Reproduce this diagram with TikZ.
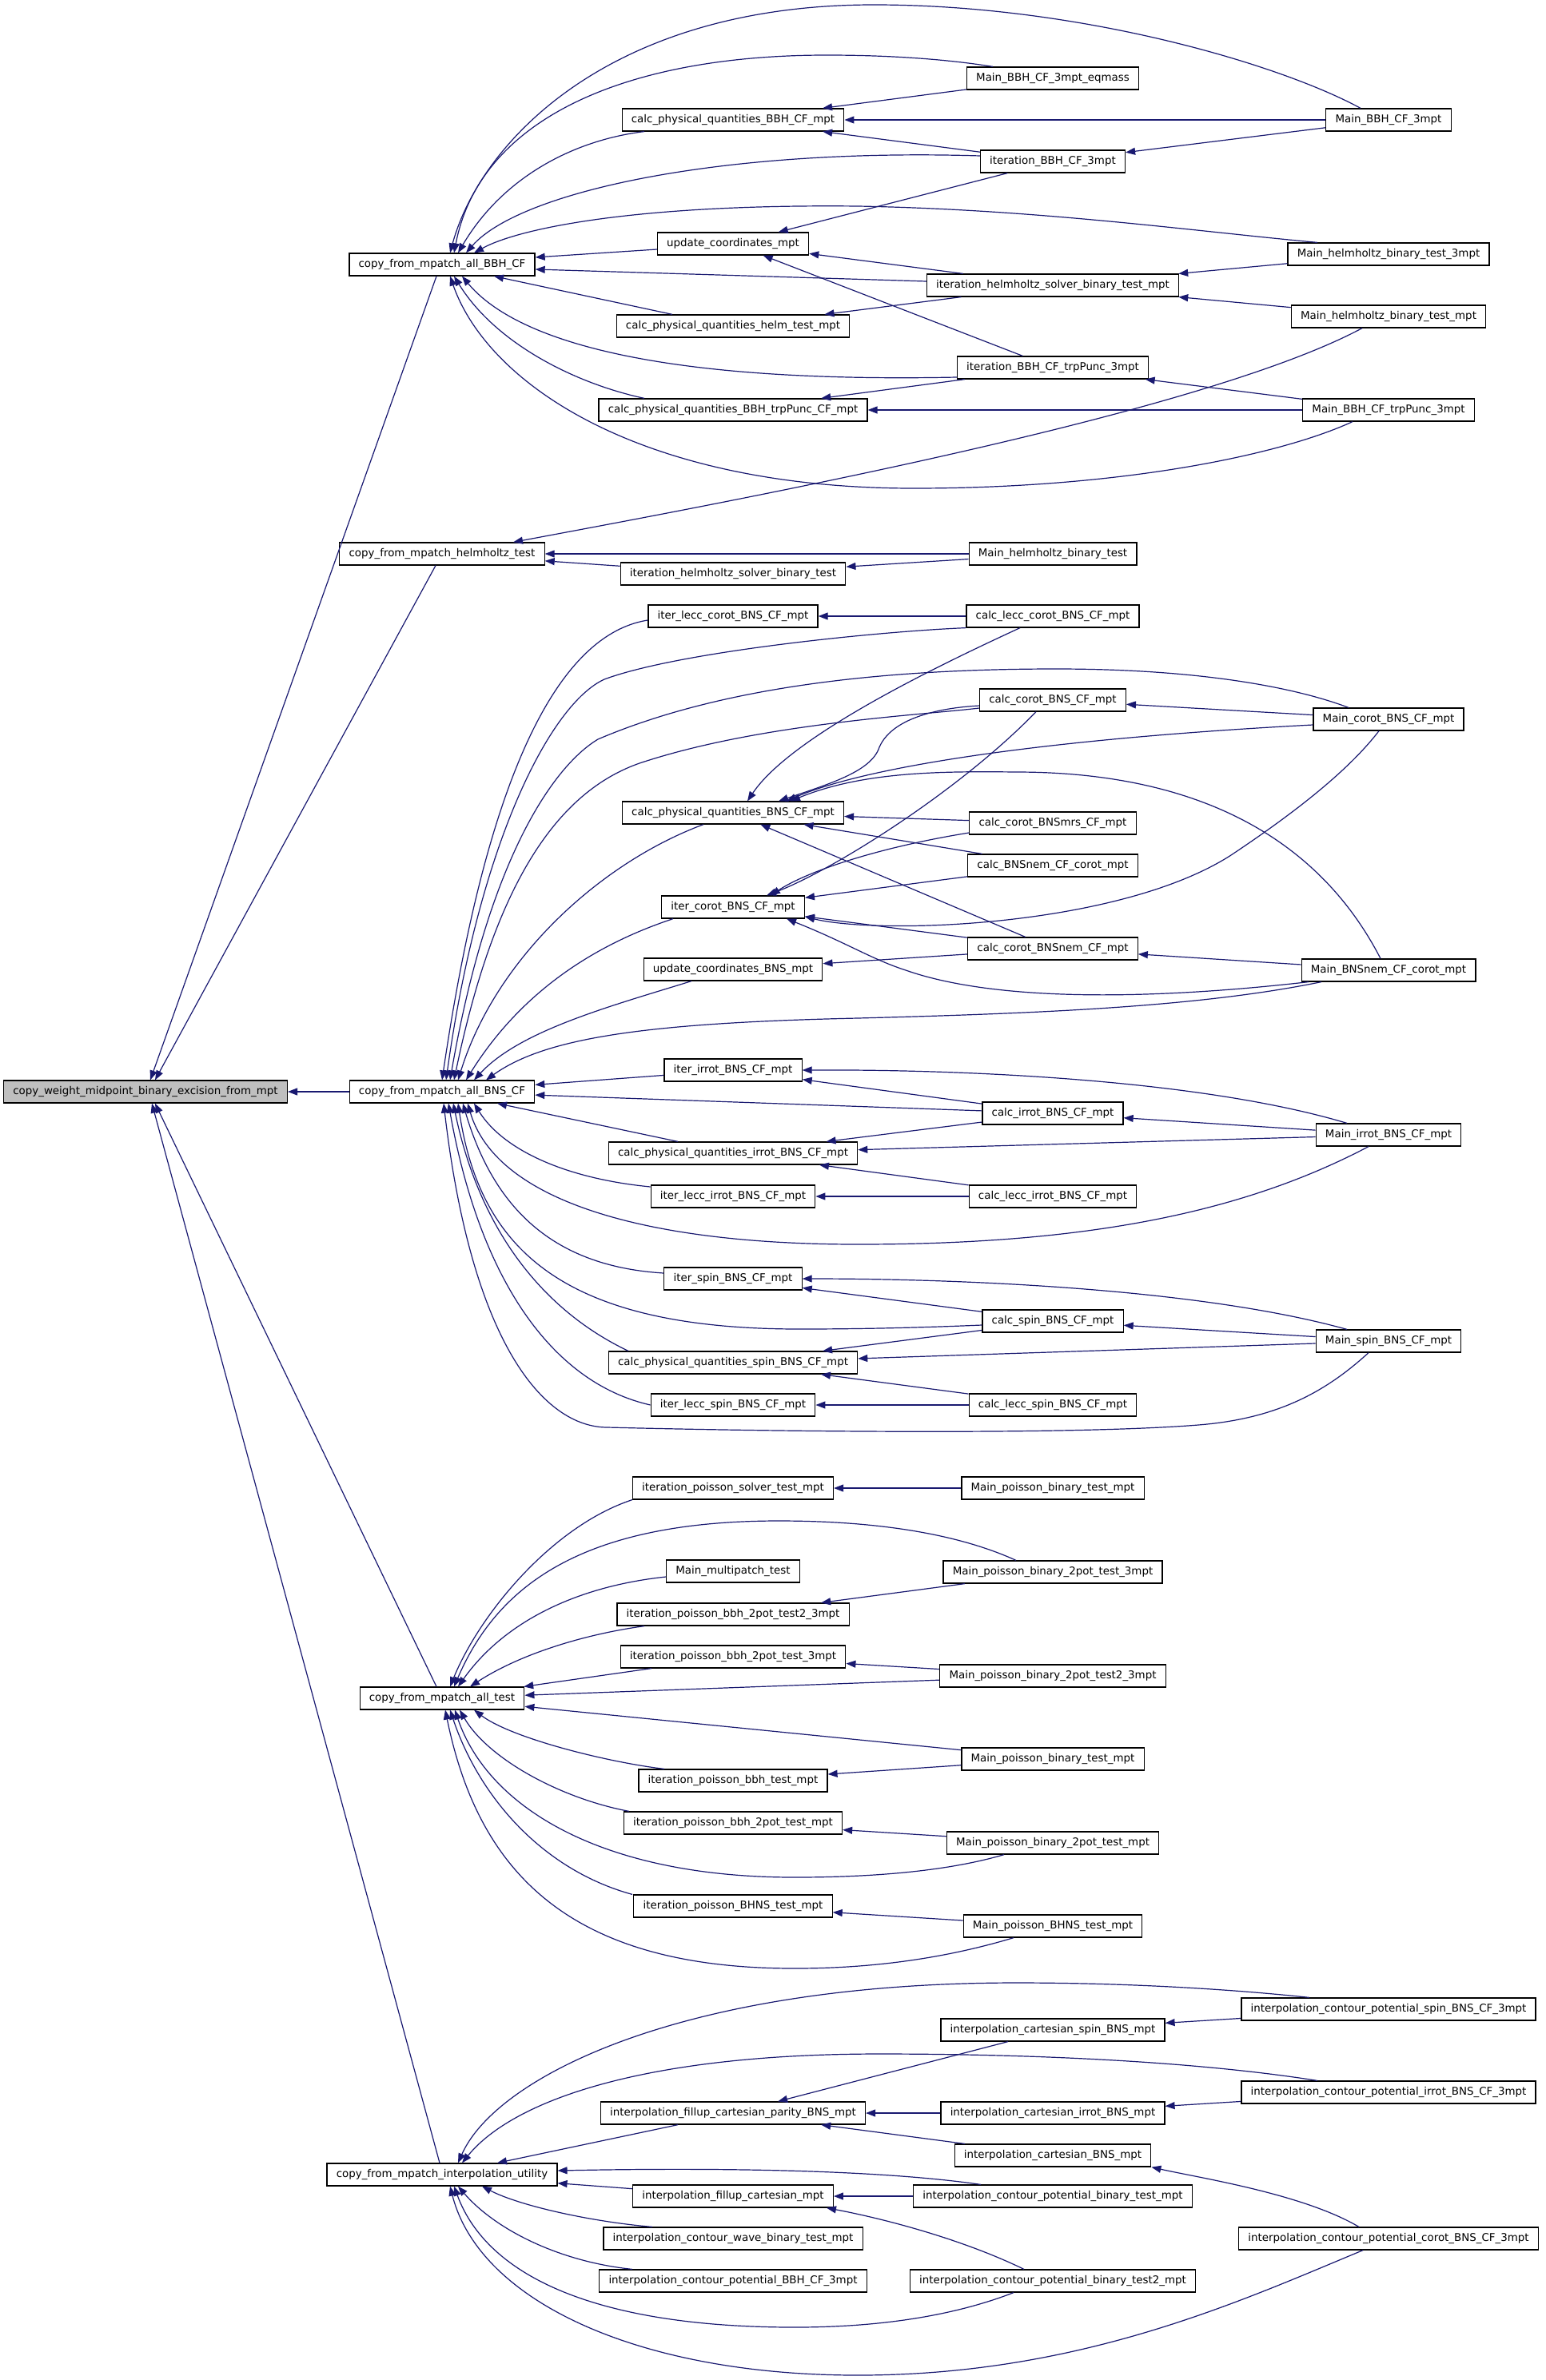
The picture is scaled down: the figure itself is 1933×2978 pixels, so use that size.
\documentclass[tikz,border=0pt]{standalone}
\usepackage{fontspec}
\setmainfont{DejaVu Sans}
\usetikzlibrary{arrows.meta}
\definecolor{eblue}{RGB}{25,25,112}
\begin{document}
\begin{tikzpicture}[x=1pt,y=-1pt]
\tikzset{
  box/.style={draw=black, fill=white, line width=1.2pt, inner xsep=11.7pt, inner ysep=0pt,
    minimum height=28pt, font=\fontsize{13.4}{16}\selectfont},
  e/.style={draw=eblue, line width=1.2pt, arrows={Triangle[length=12pt,width=9pt,fill=eblue]-}},
}
\useasboundingbox (0,0) rectangle (1933,2978);
% ---------------- nodes ----------------
\node[box,fill=gray!50] (main) at (182,1366) {copy\_weight\_midpoint\_binary\_excision\_from\_mpt};
% level 1
\node[box] (bbh) at (553,331) {copy\_from\_mpatch\_all\_BBH\_CF};
\node[box] (hlm) at (553,693) {copy\_from\_mpatch\_helmholtz\_test};
\node[box] (bns) at (553,1366) {copy\_from\_mpatch\_all\_BNS\_CF};
\node[box] (tst) at (553,2125) {copy\_from\_mpatch\_all\_test};
\node[box] (ipu) at (553,2721) {copy\_from\_mpatch\_interpolation\_utility};
% level 2
\node[box] (cpq) at (917,150) {calc\_physical\_quantities\_BBH\_CF\_mpt};
\node[box] (uc) at (917,305) {update\_coordinates\_mpt};
\node[box] (cph) at (917,408) {calc\_physical\_quantities\_helm\_test\_mpt};
\node[box] (cpt) at (917,513) {calc\_physical\_quantities\_BBH\_trpPunc\_CF\_mpt};
\node[box] (ihb) at (917,718) {iteration\_helmholtz\_solver\_binary\_test};
\node[box] (ilc) at (917,771) {iter\_lecc\_corot\_BNS\_CF\_mpt};
\node[box] (cpb) at (917,1017) {calc\_physical\_quantities\_BNS\_CF\_mpt};
\node[box] (icb) at (917,1135) {iter\_corot\_BNS\_CF\_mpt};
\node[box] (ucb) at (917,1213) {update\_coordinates\_BNS\_mpt};
\node[box] (iib) at (917,1339) {iter\_irrot\_BNS\_CF\_mpt};
\node[box] (cpi) at (917,1443) {calc\_physical\_quantities\_irrot\_BNS\_CF\_mpt};
\node[box] (ili) at (917,1497) {iter\_lecc\_irrot\_BNS\_CF\_mpt};
\node[box] (isb) at (917,1600) {iter\_spin\_BNS\_CF\_mpt};
\node[box] (cps) at (917,1705) {calc\_physical\_quantities\_spin\_BNS\_CF\_mpt};
\node[box] (ils) at (917,1758) {iter\_lecc\_spin\_BNS\_CF\_mpt};
\node[box] (ipst) at (917,1862) {iteration\_poisson\_solver\_test\_mpt};
\node[box] (mmt) at (917,1966) {Main\_multipatch\_test};
\node[box] (ipbtt) at (917,2020) {iteration\_poisson\_bbh\_2pot\_test2\_3mpt};
\node[box] (ipbth) at (917,2073) {iteration\_poisson\_bbh\_2pot\_test\_3mpt};
\node[box] (ipbt) at (917,2228) {iteration\_poisson\_bbh\_test\_mpt};
\node[box] (ipbtw) at (917,2281) {iteration\_poisson\_bbh\_2pot\_test\_mpt};
\node[box] (ipbh) at (917,2385) {iteration\_poisson\_BHNS\_test\_mpt};
\node[box] (ifcp) at (917,2644) {interpolation\_fillup\_cartesian\_parity\_BNS\_mpt};
\node[box] (ifc) at (917,2748) {interpolation\_fillup\_cartesian\_mpt};
\node[box] (icwb) at (917,2801) {interpolation\_contour\_wave\_binary\_test\_mpt};
\node[box] (icpbbh) at (917,2854) {interpolation\_contour\_potential\_BBH\_CF\_3mpt};
% level 3
\node[box] (eq) at (1317,98) {Main\_BBH\_CF\_3mpt\_eqmass};
\node[box] (it3) at (1317,202) {iteration\_BBH\_CF\_3mpt};
\node[box] (ihm) at (1317,357) {iteration\_helmholtz\_solver\_binary\_test\_mpt};
\node[box] (itp) at (1317,460) {iteration\_BBH\_CF\_trpPunc\_3mpt};
\node[box] (mhb) at (1317,693) {Main\_helmholtz\_binary\_test};
\node[box] (clc) at (1317,771) {calc\_lecc\_corot\_BNS\_CF\_mpt};
\node[box] (ccb) at (1317,876) {calc\_corot\_BNS\_CF\_mpt};
\node[box] (cmrs) at (1317,1030) {calc\_corot\_BNSmrs\_CF\_mpt};
\node[box] (cnem) at (1317,1083) {calc\_BNSnem\_CF\_corot\_mpt};
\node[box] (ccnem) at (1317,1187) {calc\_corot\_BNSnem\_CF\_mpt};
\node[box] (cib) at (1317,1393) {calc\_irrot\_BNS\_CF\_mpt};
\node[box] (clci) at (1317,1497) {calc\_lecc\_irrot\_BNS\_CF\_mpt};
\node[box] (csb) at (1317,1653) {calc\_spin\_BNS\_CF\_mpt};
\node[box] (clcs) at (1317,1758) {calc\_lecc\_spin\_BNS\_CF\_mpt};
\node[box] (mpbta) at (1317,1862) {Main\_poisson\_binary\_test\_mpt};
\node[box] (mpbth) at (1317,1967) {Main\_poisson\_binary\_2pot\_test\_3mpt};
\node[box] (mpbtt) at (1317,2097) {Main\_poisson\_binary\_2pot\_test2\_3mpt};
\node[box] (mpbtb) at (1317,2201) {Main\_poisson\_binary\_test\_mpt};
\node[box] (mpbtw) at (1317,2306) {Main\_poisson\_binary\_2pot\_test\_mpt};
\node[box] (mpbh) at (1317,2410) {Main\_poisson\_BHNS\_test\_mpt};
\node[box] (icsb) at (1317,2540) {interpolation\_cartesian\_spin\_BNS\_mpt};
\node[box] (icib) at (1317,2644) {interpolation\_cartesian\_irrot\_BNS\_mpt};
\node[box] (icbn) at (1317,2697) {interpolation\_cartesian\_BNS\_mpt};
\node[box] (icpbt) at (1317,2748) {interpolation\_contour\_potential\_binary\_test\_mpt};
\node[box] (icpbtt) at (1317,2854) {interpolation\_contour\_potential\_binary\_test2\_mpt};
% level 4
\node[box] (m3) at (1737,150) {Main\_BBH\_CF\_3mpt};
\node[box] (mh3) at (1737,318) {Main\_helmholtz\_binary\_test\_3mpt};
\node[box] (mhm) at (1737,396) {Main\_helmholtz\_binary\_test\_mpt};
\node[box] (mtp) at (1737,513) {Main\_BBH\_CF\_trpPunc\_3mpt};
\node[box] (mcb) at (1737,900) {Main\_corot\_BNS\_CF\_mpt};
\node[box] (mnc) at (1737,1214) {Main\_BNSnem\_CF\_corot\_mpt};
\node[box] (mib) at (1737,1420) {Main\_irrot\_BNS\_CF\_mpt};
\node[box] (msb) at (1737,1678) {Main\_spin\_BNS\_CF\_mpt};
\node[box] (icps) at (1737,2514) {interpolation\_contour\_potential\_spin\_BNS\_CF\_3mpt};
\node[box] (icpi) at (1737,2618) {interpolation\_contour\_potential\_irrot\_BNS\_CF\_3mpt};
\node[box] (icpc) at (1737,2801) {interpolation\_contour\_potential\_corot\_BNS\_CF\_3mpt};
% ---------------- edges: main ----------------
\draw[e] ([xshift=6pt]main.north) -- ([xshift=-7pt]bbh.south);
\draw[e] ([xshift=12pt]main.north) -- ([xshift=-8pt]hlm.south);
\draw[e] (main.east) -- (bns.west);
\draw[e] ([xshift=12pt]main.south) -- ([xshift=-7pt]tst.north);
\draw[e] ([xshift=8pt]main.south) -- ([xshift=-3pt]ipu.north);
% ---------------- BBH cluster ----------------
\draw[e] ([xshift=10pt]bbh.north) .. controls (600,180) and (760,6) .. (1093,6) .. controls (1350,6) and (1600,80) .. ([xshift=-35pt]m3.north);
\draw[e] ([xshift=15pt]bbh.north) .. controls (600,150) and (780,69) .. (1034,69) .. controls (1120,69) and (1190,75) .. ([xshift=-75pt]eq.north);
\draw[e] ([xshift=20pt]bbh.north) .. controls (630,220) and (720,175) .. ([xshift=-111pt]cpq.south);
\draw[e] ([xshift=30pt]bbh.north) .. controls (650,240) and (900,185) .. ([yshift=7pt]it3.west);
\draw[e] ([xshift=40pt]bbh.north) .. controls (650,285) and (800,255) .. (1073,258) .. controls (1300,262) and (1500,290) .. ([xshift=-89pt]mh3.north);
\draw[e] ([yshift=9pt]bbh.east) -- ([yshift=-7pt]uc.west);
\draw[e] ([yshift=-6pt]bbh.east) -- ([yshift=5pt]ihm.west);
\draw[e] ([xshift=65pt]bbh.south) -- ([xshift=-76pt]cph.north);
\draw[e] ([xshift=25pt]bbh.south) .. controls (640,420) and (800,480) .. ([yshift=-12pt]itp.west);
\draw[e] ([xshift=15pt]bbh.south) .. controls (620,430) and (720,480) .. ([xshift=-111pt]cpt.north);
\draw[e] ([xshift=10pt]bbh.south) .. controls (610,480) and (800,611) .. (1143,611) .. controls (1400,611) and (1600,570) .. ([xshift=-45pt]mtp.south);
\draw[e] (cpq) -- (eq);
\draw[e] (cpq) -- (m3);
\draw[e] (cpq) -- (it3);
\draw[e] (it3) -- (m3);
\draw[e] (uc) -- (it3);
\draw[e] (uc) -- (ihm);
\draw[e] (uc) -- (itp);
\draw[e] (ihm) -- (mh3);
\draw[e] (ihm) -- (mhm);
\draw[e] (cph) -- (ihm);
\draw[e] (cpt) -- (itp);
\draw[e] (cpt) -- (mtp);
\draw[e] (itp) -- (mtp);
% helmholtz
\draw[e] ([xshift=89pt]hlm.north) .. controls (900,630) and (1500,520) .. ([xshift=-33pt]mhm.south);
\draw[e] (hlm) -- (mhb);
\draw[e] (hlm) -- (ihb);
\draw[e] (ihb) -- (mhb);
% ---------------- BNS cluster ----------------
\draw[e] (bns.north) .. controls (590,1100) and (660,800) .. ([yshift=-5pt]ilc.west);
\draw[e] ([xshift=5pt]bns.north) .. controls (600,1050) and (690,880) .. (756,850) .. controls (850,815) and (1100,790) .. (clc.south west);
\draw[e] ([xshift=10pt]bns.north) .. controls (610,1080) and (690,960) .. (748,925) .. controls (900,860) and (1100,837) .. (1321,837) .. controls (1500,837) and (1620,860) .. ([xshift=-50pt]mcb.north);
\draw[e] ([xshift=15pt]bns.north) .. controls (620,1100) and (700,990) .. (800,955) .. controls (950,905) and (1150,895) .. ([yshift=-10pt]ccb.west);
\draw[e] ([xshift=20pt]bns.north) .. controls (620,1200) and (750,1080) .. ([xshift=-37pt]cpb.south);
\draw[e] ([xshift=30pt]bns.north) .. controls (640,1260) and (720,1190) .. ([xshift=-75pt]icb.south);
\draw[e] ([xshift=40pt]bns.north) .. controls (650,1290) and (760,1260) .. ([xshift=-52pt]ucb.south);
\draw[e] ([xshift=55pt]bns.north) .. controls (680,1300) and (800,1280) .. (1073,1274) .. controls (1300,1268) and (1500,1260) .. ([xshift=-84pt]mnc.south);
\draw[e] (bns) -- (iib);
\draw[e] (bns) -- (cib);
\draw[e] (bns) -- (cpi);
\draw[e] ([xshift=40pt]bns.south) .. controls (630,1440) and (710,1475) .. ([yshift=12pt]ili.west);
\draw[e] ([xshift=32pt]bns.south) .. controls (620,1500) and (800,1557) .. (1073,1557) .. controls (1350,1557) and (1550,1520) .. ([xshift=-25pt]mib.south);
\draw[e] ([xshift=26pt]bns.south) .. controls (620,1520) and (700,1585) .. ([yshift=7pt]isb.west);
\draw[e] ([xshift=20pt]bns.south) .. controls (600,1560) and (700,1663) .. (1000,1663) .. controls (1100,1663) and (1180,1660) .. ([yshift=-5pt]csb.west);
\draw[e] ([xshift=14pt]bns.south) .. controls (600,1540) and (680,1640) .. ([xshift=-131pt]cps.north);
\draw[e] ([xshift=8pt]bns.south) .. controls (600,1600) and (690,1730) .. (ils.west);
\draw[e] ([xshift=2pt]bns.south) .. controls (590,1680) and (680,1786) .. (760,1786) .. controls (1000,1792) and (1350,1795) .. (1499,1783) .. controls (1600,1775) and (1660,1740) .. ([xshift=-25pt]msb.south);
\draw[e] (ilc) -- (clc);
\draw[e] ([xshift=18pt]cpb.north) .. controls (990,920) and (1180,830) .. ([xshift=-41pt]clc.south);
\draw[e] ([xshift=57pt]cpb.north) .. controls (1040,980) and (1090,965) .. (1100,935) .. controls (1115,900) and (1170,886) .. ([yshift=-7pt]ccb.west);
\draw[e] ([xshift=67pt]cpb.north) .. controls (1080,960) and (1300,925) .. ([yshift=-7pt]mcb.west);
\draw[e] ([xshift=72pt]cpb.north) .. controls (1080,965) and (1180,965) .. (1271,966) .. controls (1500,966) and (1650,1050) .. ([xshift=-10pt]mnc.north);
\draw[e] (cpb) -- (cmrs);
\draw[e] (cpb) -- (cnem);
\draw[e] (cpb) -- (ccnem);
\draw[e] ([xshift=42pt]icb.north) .. controls (1040,1090) and (1200,990) .. ([xshift=-21pt]ccb.south);
\draw[e] ([xshift=47pt]icb.north) .. controls (1010,1090) and (1100,1060) .. ([yshift=-12pt]cmrs.west);
\draw[e] (icb) -- (cnem);
\draw[e] ([yshift=-12pt]icb.east) .. controls (1100,1170) and (1400,1160) .. (1540,1070) .. controls (1630,1010) and (1690,960) .. ([xshift=-12pt]mcb.south);
\draw[e] (icb) -- (ccnem);
\draw[e] ([xshift=67pt]icb.south) .. controls (1060,1180) and (1090,1200) .. (1133,1214) .. controls (1250,1255) and (1450,1250) .. ([xshift=-100pt]mnc.south);
\draw[e] (ucb) -- (ccnem);
\draw[e] (ccb) -- (mcb);
\draw[e] (ccnem) -- (mnc);
\draw[e] (iib) -- (cib);
\draw[e] (iib.east) .. controls (1200,1338) and (1500,1350) .. ([xshift=-52pt]mib.north);
\draw[e] (cib) -- (mib);
\draw[e] (cpi) -- (cib);
\draw[e] (cpi) -- (mib);
\draw[e] (cpi) -- (clci);
\draw[e] (ili) -- (clci);
\draw[e] (isb) -- (csb);
\draw[e] (isb.east) .. controls (1200,1600) and (1500,1612) .. ([xshift=-52pt]msb.north);
\draw[e] (csb) -- (msb);
\draw[e] (cps) -- (csb);
\draw[e] (cps) -- (msb);
\draw[e] (cps) -- (clcs);
\draw[e] (ils) -- (clcs);
% ---------------- test cluster ----------------
\draw[e] ([xshift=10pt]tst.north) .. controls (600,2020) and (690,1910) .. (ipst.south west);
\draw[e] ([xshift=15pt]tst.north) .. controls (620,1990) and (720,1903) .. (974,1903) .. controls (1100,1903) and (1200,1920) .. ([xshift=-46pt]mpbth.north);
\draw[e] ([xshift=20pt]tst.north) .. controls (630,2030) and (720,1985) .. ([yshift=-7pt]mmt.west);
\draw[e] ([xshift=35pt]tst.north) .. controls (650,2070) and (730,2045) .. ([xshift=-111pt]ipbtt.south);
\draw[e] (tst) -- (ipbth);
\draw[e] (tst) -- (mpbtt);
\draw[e] (tst) -- (mpbtb);
\draw[e] ([xshift=40pt]tst.south) .. controls (640,2175) and (760,2205) .. ([xshift=-86pt]ipbt.north);
\draw[e] ([xshift=22pt]tst.south) .. controls (610,2200) and (700,2250) .. ([xshift=-130pt]ipbtw.north);
\draw[e] ([xshift=16pt]tst.south) .. controls (610,2260) and (750,2349) .. (994,2349) .. controls (1100,2349) and (1190,2340) .. ([xshift=-61pt]mpbtw.south);
\draw[e] ([xshift=10pt]tst.south) .. controls (600,2250) and (680,2340) .. ([xshift=-126pt]ipbh.north);
\draw[e] ([xshift=4pt]tst.south) .. controls (600,2350) and (720,2463) .. (994,2463) .. controls (1110,2463) and (1200,2445) .. ([xshift=-49pt]mpbh.south);
\draw[e] (ipst) -- (mpbta);
\draw[e] (ipbtt) -- (mpbth);
\draw[e] (ipbth) -- (mpbtt);
\draw[e] (ipbt) -- (mpbtb);
\draw[e] (ipbtw) -- (mpbtw);
\draw[e] (ipbh) -- (mpbh);
% ---------------- interpolation cluster ----------------
\draw[e] ([xshift=20pt]ipu.north) .. controls (620,2600) and (850,2481) .. (1271,2481) .. controls (1420,2481) and (1550,2490) .. ([xshift=-99pt]icps.north);
\draw[e] ([xshift=25pt]ipu.north) .. controls (640,2630) and (800,2570) .. (1100,2570) .. controls (1300,2570) and (1500,2580) .. ([xshift=-89pt]icpi.north);
\draw[e] (ipu) -- (ifcp);
\draw[e] ([yshift=5pt]ipu.east) .. controls (900,2712) and (1100,2715) .. ([xshift=-90pt]icpbt.north);
\draw[e] (ipu) -- (ifc);
\draw[e] ([xshift=50pt]ipu.south) .. controls (650,2760) and (740,2780) .. ([xshift=-101pt]icwb.north);
\draw[e] ([xshift=20pt]ipu.south) .. controls (620,2790) and (700,2830) .. ([xshift=-126pt]icpbbh.north);
\draw[e] ([xshift=15pt]ipu.south) .. controls (610,2850) and (750,2912) .. (994,2912) .. controls (1110,2912) and (1200,2895) .. ([xshift=-49pt]icpbtt.south);
\draw[e] ([xshift=10pt]ipu.south) .. controls (600,2880) and (800,2972) .. (1073,2972) .. controls (1350,2972) and (1550,2880) .. ([xshift=-32pt]icpc.south);
\draw[e] (ifcp) -- (icsb);
\draw[e] (ifcp) -- (icib);
\draw[e] (ifcp) -- (icbn);
\draw[e] (ifc) -- (icpbt);
\draw[e] ([xshift=117pt]ifc.south) .. controls (1100,2775) and (1200,2800) .. ([xshift=-36pt]icpbtt.north);
\draw[e] (icsb) -- (icps);
\draw[e] (icib) -- (icpi);
\draw[e] (icbn.south east) .. controls (1500,2725) and (1630,2745) .. ([xshift=-37pt]icpc.north);
\end{tikzpicture}
\end{document}
